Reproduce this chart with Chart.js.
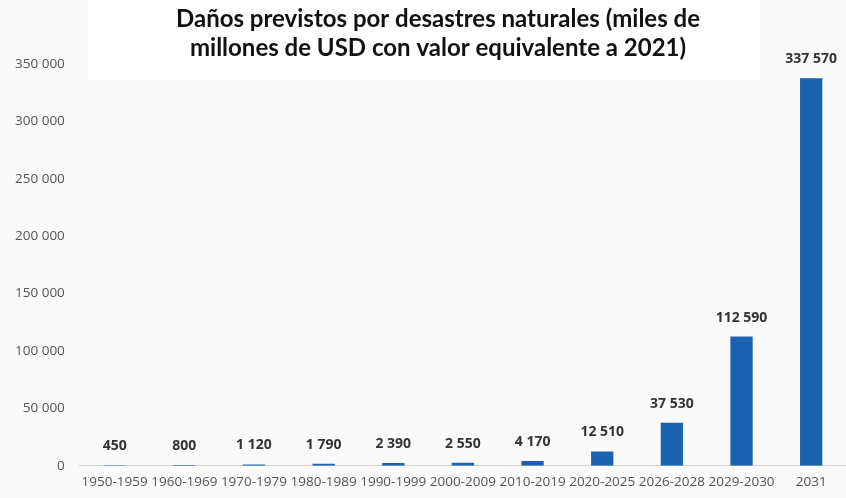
<!DOCTYPE html>
<html>
<head>
<meta charset="utf-8">
<script src="https://cdn.jsdelivr.net/npm/chart.js@4.4.0/dist/chart.umd.min.js"></script>
<style>
  html, body { margin: 0; padding: 0; background: #fafafa; }
  #wrap { width: 846px; height: 498px; }
</style>
</head>
<body>
<div id="wrap"><canvas id="grafico" width="846" height="498"></canvas></div>
<script>
// datos
const periodos = ["1950-1959", "1960-1969", "1970-1979", "1980-1989", "1990-1999", "2000-2009", "2010-2019", "2020-2025", "2026-2028", "2029-2030", "2031"];
const danos = [450, 800, 1120, 1790, 2390, 2550, 4170, 12510, 37530, 112590, 337570];
const titulo = ["Daños previstos por desastres naturales (miles de", "millones de USD con valor equivalente a 2021)"];

// separador de miles con espacio
function fmt(n) {
  return String(n).replace(/\B(?=(\d{3})+(?!\d))/g, " ");
}

// fondo + caja blanca del título
const fondo = {
  id: "fondo",
  beforeDraw(chart) {
    const ctx = chart.ctx;
    ctx.save();
    ctx.fillStyle = "#fafafa";
    ctx.fillRect(0, 0, chart.width, chart.height);
    ctx.fillStyle = "#ffffff";
    ctx.fillRect(88, 0, 672, 80);
    ctx.restore();
  }
};

// título dibujado a mano (va un poco a la derecha del centro)
const tituloPlugin = {
  id: "tituloPlugin",
  afterDraw(chart) {
    const ctx = chart.ctx;
    ctx.save();
    ctx.font = "bold 24px Lato";
    ctx.fillStyle = "#111111";
    ctx.textAlign = "center";
    ctx.textBaseline = "middle";
    titulo.forEach((linea, i) => ctx.fillText(linea, 438, 19 + i * 29));
    ctx.restore();
  }
};

// etiquetas encima de las barras
const etiquetas = {
  id: "etiquetas",
  afterDatasetsDraw(chart) {
    const ctx = chart.ctx;
    const meta = chart.getDatasetMeta(0);
    ctx.save();
    ctx.font = "bold 14px 'Open Sans'";
    ctx.fillStyle = "#333333";
    ctx.textAlign = "center";
    ctx.textBaseline = "bottom";
    meta.data.forEach((bar, i) => {
      ctx.fillText(fmt(danos[i]), bar.x, bar.y - 12);
    });
    ctx.restore();
  }
};

new Chart(document.getElementById("grafico"), {
  type: "bar",
  data: {
    labels: periodos,
    datasets: [{
      data: danos,
      backgroundColor: "#1a62b0",
      barPercentage: 0.4,
      categoryPercentage: 0.8
    }]
  },
  options: {
    responsive: false,
    animation: false,
    layout: { padding: { left: 0, right: 0, top: 64, bottom: 0 } },
    plugins: {
      legend: { display: false },
      tooltip: { enabled: false },
      title: { display: false }
    },
    scales: {
      x: {
        grid: { display: false, drawTicks: false },
        border: { color: "#d0d0d0" },
        ticks: { color: "#555555", font: { family: "'Open Sans'", size: 13.5 }, padding: 8, maxRotation: 0, autoSkip: false }
      },
      y: {
        min: 0,
        max: 350000,
        grid: { display: false, drawTicks: false },
        border: { display: false },
        ticks: {
          stepSize: 50000,
          color: "#555555",
          font: { family: "'Open Sans'", size: 13.5 },
          padding: 15,
          callback: v => fmt(v)
        }
      }
    }
  },
  plugins: [fondo, etiquetas, tituloPlugin]
});
</script>
</body>
</html>
